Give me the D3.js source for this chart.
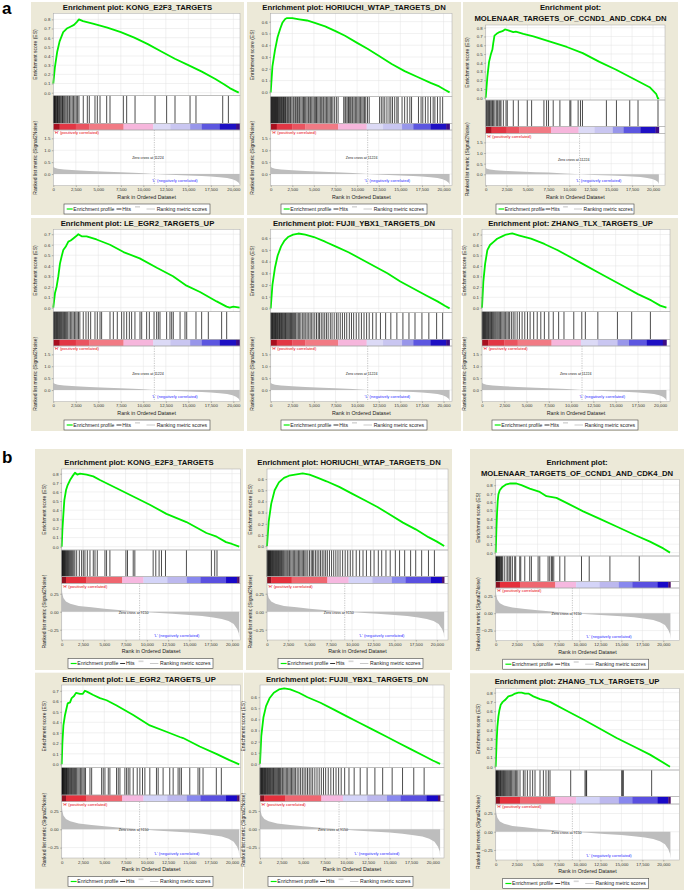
<!DOCTYPE html>
<html>
<head>
<meta charset="utf-8">
<script src="https://cdn.jsdelivr.net/npm/d3@7"></script>
<style>
html, body { margin: 0; padding: 0; background: #fff; }
svg { display: block; font-family: "Liberation Sans", Arial, sans-serif; }
</style>
</head>
<body>
<svg id="chart" width="684" height="890"></svg>
<script>
// gene sets, same order in both sections
var geneSets = [ 'KONG_E2F3_TARGETS', 'HORIUCHI_WTAP_TARGETS_DN', 'MOLENAAR_TARGETS_OF_CCND1_AND_CDK4_DN',
                 'LE_EGR2_TARGETS_UP', 'FUJII_YBX1_TARGETS_DN', 'ZHANG_TLX_TARGETS_UP' ];

var X_TICKS      = [ 0, 2500, 5000, 7500, 10000, 12500, 15000, 17500, 20000 ];
var ES_TICKS_8   = [ 0, 0.1, 0.2, 0.3, 0.4, 0.5, 0.6, 0.7, 0.8 ];
var ES_TICKS_7   = [ 0, 0.1, 0.2, 0.3, 0.4, 0.5, 0.6, 0.7 ];
var ES_TICKS_6   = [ 0, 0.1, 0.2, 0.3, 0.4, 0.5, 0.6 ];
var RANK_TICKS_A = [ 0, 0.5, 1, 1.5 ];
var RANK_TICKS_B = [ -0.25, 0, 0.25 ];

var zeroCrossA = 11224;
var zeroCrossB = 9150;

// ranked list metric (rank, signal2noise)
var rankedA = [ [0,0.31],[150,0.26],[500,0.22],[1200,0.19],[2500,0.16],[4000,0.13],[6000,0.1],[7500,0.08],[9500,0.04],[11224,0],
                [13000,-0.03],[15000,-0.06],[16500,-0.08],[17500,-0.1],[18500,-0.13],[19300,-0.17],[19900,-0.22],[20300,-0.28],[20600,-0.36],[20700,-0.45] ];
var rankedB = [ [0,0.34],[60,0.26],[200,0.19],[500,0.14],[1000,0.11],[2000,0.08],[3500,0.06],[5000,0.04],[7000,0.02],[9150,0],
                [11000,-0.015],[13000,-0.03],[15000,-0.045],[16500,-0.06],[17800,-0.08],[18800,-0.1],[19600,-0.13],[20200,-0.17],[20600,-0.24],[20800,-0.3],[20850,-0.37] ];

// heat bar under the hits
var barStopsA  = [ 0, 700, 2500, 4000, 7800, 11100, 13000, 15200, 16500, 18500, 20300, 20700 ];
var barColorsA = [ '#a80f1e', '#e23644', '#ea5460', '#f17a84', '#f6b6dc', '#dcdaf6', '#c9c6f1', '#9896ea', '#5c56e0', '#1e10c4', '#3c0c86' ];
var barStopsB  = [ 0, 500, 2900, 7100, 9600, 12400, 14700, 16300, 19300, 20600, 20850 ];
var barColorsB = [ '#8c1020', '#e5303c', '#ef6670', '#f6b8e0', '#d4d4f8', '#bcb8ee', '#8888ee', '#5a50e0', '#1808c8', '#50106a' ];

// running enrichment score (rank, ES)
var esKongA = [ [0,0.1],[180,0.28],[440,0.45],[700,0.56],[1100,0.66],[1500,0.7],[1900,0.72],[2300,0.74],[2600,0.77],[2850,0.8],[3300,0.78],[4500,0.75],
  [6000,0.71],[7500,0.66],[9000,0.6],[10500,0.53],[12000,0.45],[13500,0.37],[15000,0.3],[16500,0.23],[18000,0.15],[19000,0.09],[19600,0.05],[20200,0.02],[20600,0] ];
var esHoriuchiA = [ [0,0],[200,0.22],[500,0.36],[800,0.47],[1100,0.54],[1350,0.59],[1650,0.62],[1850,0.63],[2500,0.63],[3300,0.62],[4200,0.61],[5100,0.59],
  [6300,0.56],[7500,0.52],[8600,0.48],[10000,0.42],[11200,0.37],[12500,0.31],[14000,0.24],[15500,0.18],[17000,0.13],[18500,0.08],[19500,0.05],[20200,0.02],[20700,0] ];
var esMolenaarA = [ [0,0],[200,0.24],[400,0.41],[600,0.49],[800,0.55],[900,0.62],[1050,0.71],[1300,0.73],[1650,0.75],[2000,0.76],[2300,0.78],[2700,0.77],
  [3300,0.75],[3600,0.755],[4500,0.73],[5700,0.7],[7700,0.64],[9700,0.58],[11600,0.51],[13600,0.41],[15600,0.32],[17600,0.22],[19600,0.12],[20400,0.04],[20600,-0.01],[20700,0] ];
var esLeEgr2A = [ [0,0],[190,0.14],[370,0.2],[560,0.3],[740,0.42],[930,0.49],[1110,0.55],[1370,0.58],[1670,0.63],[1930,0.64],[2220,0.66],[2520,0.68],[2780,0.7],
  [3150,0.68],[3700,0.68],[4800,0.65],[6300,0.6],[7800,0.53],[9600,0.47],[11500,0.38],[13300,0.3],[14800,0.21],[16300,0.15],[18150,0.06],[19250,0.01],[19600,0],[20000,0.01],[20700,0] ];
var esFujiiA = [ [0,0],[200,0.2],[500,0.35],[800,0.45],[1200,0.53],[1600,0.58],[2000,0.61],[2600,0.63],[3200,0.64],[4000,0.63],[5000,0.61],[6300,0.57],
  [7500,0.53],[9000,0.48],[10500,0.42],[12000,0.36],[13500,0.3],[15000,0.23],[16500,0.17],[18000,0.11],[19300,0.06],[20200,0.02],[20700,0] ];
var esZhangA = [ [0,0],[150,0.25],[350,0.42],[600,0.55],[900,0.6],[1300,0.63],[1700,0.66],[2200,0.68],[2700,0.7],[3400,0.71],[4200,0.69],[5500,0.66],
  [7000,0.61],[8500,0.55],[10000,0.48],[11500,0.41],[13000,0.34],[14500,0.27],[16000,0.2],[17500,0.13],[19000,0.07],[20000,0.02],[20700,0] ];

var esKongB = [ [0,0],[80,0.18],[200,0.36],[310,0.51],[510,0.62],[700,0.675],[980,0.73],[1250,0.77],[1560,0.81],[1830,0.79],[2150,0.8],[2930,0.79],
  [3710,0.77],[4490,0.73],[6450,0.64],[8400,0.55],[10350,0.46],[12300,0.36],[14650,0.27],[17000,0.15],[18200,0.11],[19300,0.05],[20000,0.03],[20850,0] ];
var esHoriuchiB = [ [0,0],[200,0.22],[500,0.38],[900,0.5],[1400,0.57],[2000,0.61],[2600,0.63],[3300,0.64],[4200,0.65],[5000,0.64],[6000,0.61],[7000,0.58],
  [8500,0.53],[10000,0.47],[11500,0.41],[13000,0.35],[14500,0.28],[16000,0.21],[17500,0.15],[19000,0.08],[20000,0.04],[20850,0] ];
var esMolenaarB = [ [0,0],[80,0.27],[160,0.47],[240,0.61],[320,0.69],[480,0.74],[800,0.78],[1270,0.81],[1670,0.82],[2470,0.82],[3070,0.8],[4060,0.76],
  [5260,0.72],[6060,0.67],[7250,0.65],[8450,0.59],[10440,0.49],[12430,0.4],[14420,0.31],[16810,0.2],[18410,0.13],[20000,0.05],[20800,0] ];
var esLeEgr2B = [ [0,0],[80,0.2],[200,0.37],[390,0.47],[700,0.58],[980,0.59],[1170,0.63],[1450,0.65],[1680,0.68],[2150,0.67],[2460,0.67],[2730,0.7],
  [3010,0.69],[3710,0.66],[4490,0.63],[5270,0.61],[6450,0.56],[8400,0.47],[10350,0.37],[12300,0.31],[13870,0.26],[14260,0.25],[16210,0.17],[18160,0.1],[19700,0.04],[20850,0] ];
var esFujiiB = [ [0,0],[150,0.25],[400,0.42],[700,0.52],[1100,0.59],[1600,0.64],[2200,0.67],[2800,0.68],[3500,0.67],[4500,0.64],[5500,0.6],[7000,0.55],
  [8500,0.49],[10000,0.43],[11500,0.37],[13000,0.31],[14500,0.25],[16000,0.19],[17500,0.13],[19000,0.07],[20000,0.03],[20850,0] ];
var esZhangB = [ [0,0],[120,0.29],[200,0.43],[320,0.54],[440,0.61],[600,0.67],[840,0.7],[1110,0.72],[1510,0.76],[1910,0.77],[2310,0.79],[2700,0.8],
  [3100,0.8],[3500,0.79],[3900,0.79],[4490,0.76],[5290,0.73],[6480,0.7],[8470,0.605],[10460,0.51],[12450,0.41],[14430,0.31],[16420,0.22],[18410,0.13],[20800,0] ];

// hit positions (rank)
var hitsKongA = [ 20,60,110,150,200,260,330,400,470,520,600,680,760,850,950,1020,1100,1200,1300,1420,1550,1650,1800,1950,2100,2250,2400,2550,2700,2850,
  3330,3780,4000,4630,4890,5190,5930,6300,7780,8150,9080,11300,12590,13520,15190,15850,18820,19450 ];
var hitsHoriuchiA = [ 10,60,120,180,240,300,360,420,480,540,600,660,720,790,860,930,1000,1080,1160,1240,1320,1400,1480,1560,1640,1720,1800,
  1950,2050,2200,2300,2450,2600,2700,2850,2950,3100,3250,3350,3500,3650,3800,3900,4050,4200,4350,4450,4600,4750,4900,5050,5200,5300,5450,5600,5750,5900,
  6050,6150,6300,6450,6600,6750,6900,7050,7200,7400,7600,7800,8450,8600,8700,8850,9000,9100,9250,9400,9500,9650,9800,9950,10100,10250,10400,10550,10700,
  10850,11000,11200,11400,12600,12800,13000,13200,13450,13700,13900,14100,14350,14600,14750,15200,15500,15800,16100,16300,17100,17400,17600,17900,18200,
  18500,18800,19000,19300,19600,19900 ];
var hitsMolenaarA = [ 40,120,240,320,440,520,640,760,840,960,1110,1310,1430,1590,1710,1830,2110,2430,2580,3300,3900,4970,5490,6960,7280,7510,8070,8870,
  10060,10180,11050,11330,11570,14430,15630,17220,18210,20600 ];
var hitsLeEgr2A = [ 20,80,150,220,300,370,450,520,600,700,780,870,950,1050,1150,1250,1350,1480,1600,1750,1900,2050,2200,2350,2500,2650,2800,2950,
  3330,3630,3890,4150,4630,4890,5190,5370,6300,6670,7110,7590,7850,8150,8450,8700,9070,9630,9820,10370,10670,11190,11480,11670,11850,12590,12960,13150,
  13330,14080,14630,14820,15850,16480,17220,18700,19260 ];
var hitsFujiiA = [ 10,70,140,210,280,350,420,490,560,630,700,780,860,940,1020,1100,1180,1260,1350,1440,1530,1620,1710,1800,1900,2000,2100,2200,2300,2400,
  2500,2600,2700,2800,2900,3050,3200,3350,3500,3700,3850,4000,4200,4350,4550,4700,4900,5100,5300,5500,5650,5850,6050,6250,6450,6650,6900,7100,7350,7600,
  7800,8050,8300,8550,8800,9100,9350,9600,9900,10200,10500,10800,11100,11400,11800,12200,12700,13300,13900,14600,15300,16000,16700,17500,18300,19200,19900 ];
var hitsZhangA = [ 20,80,140,200,270,340,410,480,560,640,720,800,890,980,1070,1160,1260,1360,1470,1580,1700,1820,1950,2080,2220,2360,2500,2650,2800,2950,
  3100,3300,3500,3700,3950,4200,4500,4800,5100,5400,5800,6200,6600,7000,7500,8000,8600,9200,10300,11200,11600,13000,15200,16800,18900 ];

var hitsKongB = [ 20,60,110,160,220,280,340,400,470,540,620,700,780,870,960,1060,1170,1290,1420,1550,1760,2070,2340,2540,2730,3010,3320,3710,3910,4180,
  5080,5270,5660,7540,7730,8400,8590,10740,11050,11440,11720,12190,14650,17580,17970,18240 ];
var hitsHoriuchiB = [ 10,60,120,180,240,300,360,420,490,560,630,700,780,860,940,1020,1100,1180,1260,1340,1420,1500,1600,1700,1800,1900,2000,2120,2250,
  2380,2500,2650,2800,2950,3100,3250,3400,3550,3700,3850,4000,4150,4300,4450,4600,4800,5000,5200,5350,5500,5700,5900,6100,6300,6500,6700,6900,7100,7350,
  7600,7850,8100,8350,8600,8900,9200,9500,9800,10100,10500,10900,11300,11700,12200,12600,13100,13500,14000,14500,15100,15600,16200,16900,17500,18200,19000,19700 ];
var hitsMolenaarB = [ 20,60,100,150,200,260,320,380,450,520,600,680,760,850,1080,1350,1470,1670,1790,1990,2270,2390,2870,2990,3470,4060,4260,5060,5260,
  6250,6450,6650,6770,6930,7650,8250,10240,11160,13630,17130 ];
var hitsLeEgr2B = [ 20,60,100,150,200,250,310,370,430,500,560,620,700,780,860,950,1050,1150,1260,1380,1500,1620,1750,1900,2050,2200,2350,2500,2650,2800,
  3320,3520,4690,4880,5080,5470,5660,6440,6640,6840,7420,7620,7810,8010,8400,8870,9180,9490,9770,10350,11130,11330,11910,12690,13090,13670,13870,14060,
  15040,16010,16210,16600,18160,18750 ];
var hitsFujiiB = [ 10,60,120,180,240,300,370,440,510,580,650,720,800,880,960,1040,1120,1200,1290,1380,1470,1560,1650,1750,1850,1950,2050,2150,2250,2350,
  2450,2600,2750,2900,3050,3200,3350,3500,3650,3800,3950,4100,4300,4500,4700,4900,5100,5300,5500,5700,5900,6100,6350,6600,6850,7100,7350,7600,7900,8200,
  8500,8800,9100,9400,9800,10300,10900,11600,12400,13300,14200,15300,16500,17800,19000 ];
var hitsZhangB = [ 20,60,110,160,220,280,350,420,500,580,660,750,840,940,1040,1150,1260,1380,1500,1630,1760,1900,2050,2200,2350,2500,2650,2900,3300,3500,
  3780,4100,4410,4690,5290,5690,6000,6280,6480,8950,10660,10780,10850,15030,15150,15230,18610 ];

var esA   = [ esKongA, esHoriuchiA, esMolenaarA, esLeEgr2A, esFujiiA, esZhangA ];
var esB   = [ esKongB, esHoriuchiB, esMolenaarB, esLeEgr2B, esFujiiB, esZhangB ];
var hitsA = [ hitsKongA, hitsHoriuchiA, hitsMolenaarA, hitsLeEgr2A, hitsFujiiA, hitsZhangA ];
var hitsB = [ hitsKongB, hitsHoriuchiB, hitsMolenaarB, hitsLeEgr2B, hitsFujiiB, hitsZhangB ];

var SETS = {
	  a : { es: esA, hits: hitsA, ranked: rankedA, zero: zeroCrossA, stops: barStopsA, colors: barColorsA, rankTicks: RANK_TICKS_A, rankFmt: '.1f', zeroTextY: 0.67 }
	, b : { es: esB, hits: hitsB, ranked: rankedB, zero: zeroCrossB, stops: barStopsB, colors: barColorsB, rankTicks: RANK_TICKS_B, rankFmt: '.2f', zeroTextY: -0.01 }
};

// panel geometry (pixels)
var LAYOUT = [
	  { set:'a', i:0, box:[31,2,213,213],   plot:[53.3,240],  titleY:[7],      es:[13.3,95.7],  esDom:[-0.033,0.866], esTicks:ES_TICKS_8, hitsH:27.6, barH:6.7, rankBot:185.5, rankDom:[-0.48,1.85],  xMax:20740, legX:64,  legW:146 }
	, { set:'a', i:1, box:[247,2,214,213],  plot:[270.7,452], titleY:[7],      es:[13.3,96.7],  esDom:[-0.037,0.671], esTicks:ES_TICKS_6, hitsH:26.6, barH:6.7, rankBot:185.5, rankDom:[-0.48,1.85],  xMax:20980, legX:281, legW:146 }
	, { set:'a', i:2, box:[463,2,215,213],  plot:[485.7,665], titleY:[7,18],   es:[25,100],     esDom:[-0.026,0.831], esTicks:ES_TICKS_8, hitsH:26.7, barH:6.6, rankBot:185.5, rankDom:[-0.526,1.925], xMax:21435, legX:496, legW:138 }
	, { set:'a', i:3, box:[31,218,213,213], plot:[53.3,240],  titleY:[223],    es:[229.3,311.7],esDom:[-0.038,0.747], esTicks:ES_TICKS_7, hitsH:27.6, barH:6.7, rankBot:401.5, rankDom:[-0.48,1.85],  xMax:20740, legX:64,  legW:146 }
	, { set:'a', i:4, box:[247,218,214,213],plot:[270.7,452], titleY:[223],    es:[229.3,312.7],esDom:[-0.037,0.676], esTicks:ES_TICKS_6, hitsH:26.6, barH:6.7, rankBot:401.5, rankDom:[-0.48,1.85],  xMax:20980, legX:281, legW:146 }
	, { set:'a', i:5, box:[463,218,215,213],plot:[482,670],   titleY:[223],    es:[229.3,311.7],esDom:[-0.038,0.75],  esTicks:ES_TICKS_7, hitsH:27.6, barH:6.7, rankBot:401.5, rankDom:[-0.48,1.85],  xMax:21100, legX:492, legW:146 }
	, { set:'b', i:0, box:[35,449,208,221], plot:[61.7,240.5],titleY:[462],    es:[469,550],    esDom:[-0.036,0.851], esTicks:ES_TICKS_8, hitsH:26.7, barH:6.6, rankBot:640,   rankDom:[-0.393,0.394], xMax:21000, legX:68,  legW:145 }
	, { set:'b', i:1, box:[246,449,206,221],plot:[267,448],   titleY:[462],    es:[469,550],    esDom:[-0.035,0.69],  esTicks:ES_TICKS_6, hitsH:26.7, barH:6.6, rankBot:640,   rankDom:[-0.393,0.394], xMax:21300, legX:278, legW:145 }
	, { set:'b', i:2, box:[470,449,214,221],plot:[495.7,679.3],titleY:[461.7,472.7], es:[479.3,556], esDom:[-0.04,0.87], esTicks:ES_TICKS_8, hitsH:25.7, barH:6.3, rankBot:640.7, rankDom:[-0.395,0.36], xMax:21910, legX:502.7, legW:146 }
	, { set:'b', i:3, box:[35,672.7,208,216],plot:[61.7,240.5],titleY:[679],   es:[685,767.7],  esDom:[-0.032,0.755], esTicks:ES_TICKS_7, hitsH:27.3, barH:6.7, rankBot:858,   rankDom:[-0.392,0.377], xMax:21000, legX:68,  legW:145 }
	, { set:'b', i:4, box:[244,672.7,206,216],plot:[260,444], titleY:[679],    es:[685,767.7],  esDom:[-0.035,0.71],  esTicks:ES_TICKS_6, hitsH:27.3, barH:6.7, rankBot:858,   rankDom:[-0.392,0.377], xMax:21300, legX:268, legW:145 }
	, { set:'b', i:5, box:[470,673.3,214,216.7],plot:[495.7,679.3],titleY:[681], es:[688.3,770], esDom:[-0.036,0.847], esTicks:ES_TICKS_8, hitsH:26.7, barH:7.3, rankBot:860,   rankDom:[-0.387,0.38], xMax:21910, legX:502.7, legW:146 }
];

var COL = {
	  panel  : '#ece9d8'
	, frame  : '#a9a9a9'
	, grid   : '#e3e3e3'
	, es     : '#00ee00'
	, ranked : '#bdbdbd'
	, hi     : '#e8000b'
	, lo     : '#2b2bff'
};

var svg = d3.select( '#chart' );

function styleAxis( g, size ) {
	g.attr( 'font-size', null ).attr( 'font-family', null );
	g.select( '.domain' ).remove();
	g.selectAll( '.tick line' ).attr( 'stroke', '#555' ).attr( 'stroke-width', 0.4 );
	g.selectAll( '.tick text' ).attr( 'font-size', size ).attr( 'fill', '#333' );
}

function appendLegend( g, lx, ly, lw ) {
	var k = lw / 146;
	var my = ly + 5;
	g.append( 'rect' ).attr( 'x', lx ).attr( 'y', ly ).attr( 'width', lw ).attr( 'height', 10 )
		.attr( 'fill', '#fff' ).attr( 'stroke', '#444' ).attr( 'stroke-width', 0.6 );
	g.append( 'line' ).attr( 'x1', lx + 2.7 * k ).attr( 'x2', lx + 8.7 * k ).attr( 'y1', my ).attr( 'y2', my )
		.attr( 'stroke', COL.es ).attr( 'stroke-width', 1.2 );
	g.append( 'line' ).attr( 'x1', lx + 52.5 * k ).attr( 'x2', lx + 57.5 * k ).attr( 'y1', my ).attr( 'y2', my )
		.attr( 'stroke', '#000' ).attr( 'stroke-width', 0.8 );
	g.append( 'rect' ).attr( 'x', lx + 71 * k ).attr( 'y', my - 3 ).attr( 'width', 5 * k ).attr( 'height', 1.6 )
		.attr( 'fill', '#d8d8d8' );
	g.append( 'line' ).attr( 'x1', lx + 82.5 * k ).attr( 'x2', lx + 91 * k ).attr( 'y1', my ).attr( 'y2', my )
		.attr( 'stroke', '#bbb' ).attr( 'stroke-width', 0.8 );
	var items = [ [ 9.3, 'Enrichment profile' ], [ 58.3, 'Hits' ], [ 92.7, 'Ranking metric scores' ] ];
	items.forEach( function( it ) {
		g.append( 'text' ).attr( 'x', lx + it[ 0 ] * k ).attr( 'y', my + 1.8 ).attr( 'font-size', 5.1 * Math.min( 1, k + 0.03 ) )
			.attr( 'fill', '#222' ).text( it[ 1 ] );
	} );
}

function drawPanel( p ) {
	var S       = SETS[ p.set ];
	var g       = svg.append( 'g' );
	var esTop   = p.es[ 0 ], esBot = p.es[ 1 ];
	var hitsBot = esBot + p.hitsH;
	var barBot  = hitsBot + p.barH;
	var rankBot = p.rankBot;
	var x  = d3.scaleLinear().domain( [ 0, p.xMax ] ).range( p.plot );
	var yE = d3.scaleLinear().domain( p.esDom ).range( [ esBot, esTop ] );
	var yR = d3.scaleLinear().domain( p.rankDom ).range( [ rankBot, barBot ] );
	var pw = p.plot[ 1 ] - p.plot[ 0 ];

	g.append( 'rect' ).attr( 'x', p.box[ 0 ] ).attr( 'y', p.box[ 1 ] ).attr( 'width', p.box[ 2 ] ).attr( 'height', p.box[ 3 ] )
		.attr( 'fill', COL.panel );

	// title
	var name  = geneSets[ p.i ];
	var lines = p.titleY.length > 1 ? [ 'Enrichment plot:', name ] : [ 'Enrichment plot: '+ name ];
	lines.forEach( function( t, n ) {
		g.append( 'text' ).attr( 'x', p.box[ 0 ] + p.box[ 2 ] / 2 ).attr( 'y', p.titleY[ n ] + 2.8 )
			.attr( 'text-anchor', 'middle' ).attr( 'font-size', 7.7 ).attr( 'font-weight', 'bold' ).attr( 'fill', '#111' ).text( t );
	} );

	// plot backgrounds
	[ [ esTop, esBot ], [ esBot, hitsBot ], [ barBot, rankBot ] ].forEach( function( r ) {
		g.append( 'rect' ).attr( 'x', p.plot[ 0 ] ).attr( 'y', r[ 0 ] ).attr( 'width', pw ).attr( 'height', r[ 1 ] - r[ 0 ] )
			.attr( 'fill', '#fff' );
	} );

	// grid
	var grid = g.append( 'g' ).attr( 'stroke', COL.grid ).attr( 'stroke-width', 0.5 );
	X_TICKS.forEach( function( t ) {
		grid.append( 'line' ).attr( 'x1', x( t ) ).attr( 'x2', x( t ) ).attr( 'y1', esTop ).attr( 'y2', esBot );
		grid.append( 'line' ).attr( 'x1', x( t ) ).attr( 'x2', x( t ) ).attr( 'y1', barBot ).attr( 'y2', rankBot );
	} );
	p.esTicks.forEach( function( t ) {
		grid.append( 'line' ).attr( 'x1', p.plot[ 0 ] ).attr( 'x2', p.plot[ 1 ] ).attr( 'y1', yE( t ) ).attr( 'y2', yE( t ) );
	} );
	S.rankTicks.forEach( function( t ) {
		grid.append( 'line' ).attr( 'x1', p.plot[ 0 ] ).attr( 'x2', p.plot[ 1 ] ).attr( 'y1', yR( t ) ).attr( 'y2', yR( t ) );
	} );

	// ranked list metric
	g.append( 'path' ).datum( S.ranked )
		.attr( 'd', d3.area().x( d => x( d[ 0 ] ) ).y0( yR( 0 ) ).y1( d => yR( d[ 1 ] ) ) )
		.attr( 'fill', COL.ranked );
	g.append( 'line' ).attr( 'x1', x( S.zero ) ).attr( 'x2', x( S.zero ) ).attr( 'y1', barBot ).attr( 'y2', rankBot )
		.attr( 'stroke', '#8a8a8a' ).attr( 'stroke-width', 0.5 ).attr( 'stroke-dasharray', '1.2,1.2' );

	// hits
	g.append( 'g' ).selectAll( 'line' ).data( S.hits[ p.i ] ).enter().append( 'line' )
		.attr( 'x1', d => x( d ) ).attr( 'x2', d => x( d ) ).attr( 'y1', esBot ).attr( 'y2', hitsBot )
		.attr( 'stroke', '#000' ).attr( 'stroke-width', 0.7 );

	// heat bar
	g.append( 'rect' ).attr( 'x', p.plot[ 0 ] ).attr( 'y', hitsBot ).attr( 'width', pw ).attr( 'height', p.barH ).attr( 'fill', '#fff' );
	g.append( 'g' ).selectAll( 'rect' ).data( S.colors ).enter().append( 'rect' )
		.attr( 'x', ( d, n ) => x( S.stops[ n ] ) )
		.attr( 'width', ( d, n ) => x( S.stops[ n + 1 ] ) - x( S.stops[ n ] ) + 0.3 )
		.attr( 'y', hitsBot ).attr( 'height', p.barH ).attr( 'fill', d => d );

	// ES curve
	g.append( 'path' ).datum( S.es[ p.i ] )
		.attr( 'd', d3.line().x( d => x( d[ 0 ] ) ).y( d => yE( d[ 1 ] ) ) )
		.attr( 'fill', 'none' ).attr( 'stroke', COL.es ).attr( 'stroke-width', 1.8 ).attr( 'stroke-linejoin', 'round' );

	// frames
	[ [ esTop, esBot ], [ esBot, hitsBot ], [ hitsBot, barBot ], [ barBot, rankBot ] ].forEach( function( r ) {
		g.append( 'rect' ).attr( 'x', p.plot[ 0 ] ).attr( 'y', r[ 0 ] ).attr( 'width', pw ).attr( 'height', r[ 1 ] - r[ 0 ] )
			.attr( 'fill', 'none' ).attr( 'stroke', COL.frame ).attr( 'stroke-width', 0.5 );
	} );

	// text inside ranked plot
	g.append( 'text' ).attr( 'x', p.plot[ 0 ] + 1 ).attr( 'y', barBot + 4.2 ).attr( 'font-size', 4.1 ).attr( 'fill', COL.hi )
		.text( "'H' (positively correlated)" );
	g.append( 'text' ).attr( 'x', x( 13500 ) ).attr( 'y', yR( p.set === 'a' ? -0.29 : -0.33 ) + 1.4 ).attr( 'text-anchor', 'middle' )
		.attr( 'font-size', 4.1 ).attr( 'fill', COL.lo ).text( "'L' (negatively correlated)" );
	g.append( 'text' ).attr( 'x', x( S.zero - 700 ) ).attr( 'y', yR( S.zeroTextY ) + 1.3 ).attr( 'text-anchor', 'middle' )
		.attr( 'font-size', 3.6 ).attr( 'fill', '#222' ).text( 'Zero cross at '+ S.zero );

	// axes
	var ax = g.append( 'g' ).attr( 'transform', 'translate(0,'+ rankBot +')' )
		.call( d3.axisBottom( x ).tickValues( X_TICKS ).tickFormat( d3.format( ',' ) ).tickSize( 1.5 ).tickPadding( 1 ) );
	styleAxis( ax, 4.3 );
	var ae = g.append( 'g' ).attr( 'transform', 'translate('+ p.plot[ 0 ] +',0)' )
		.call( d3.axisLeft( yE ).tickValues( p.esTicks ).tickFormat( d3.format( '.1f' ) ).tickSize( 1.5 ).tickPadding( 1.5 ) );
	styleAxis( ae, 4.3 );
	var ar = g.append( 'g' ).attr( 'transform', 'translate('+ p.plot[ 0 ] +',0)' )
		.call( d3.axisLeft( yR ).tickValues( S.rankTicks ).tickFormat( d3.format( S.rankFmt ) ).tickSize( 1.5 ).tickPadding( 1.5 ) );
	styleAxis( ar, 4.3 );

	// axis titles
	var lx = p.plot[ 0 ] - ( p.set === 'a' ? 16.5 : 15.5 );
	g.append( 'text' ).attr( 'transform', 'translate('+ lx +','+ ( esTop + esBot ) / 2 +') rotate(-90)' )
		.attr( 'text-anchor', 'middle' ).attr( 'font-size', 5 ).attr( 'fill', '#222' ).text( 'Enrichment score (ES)' );
	g.append( 'text' ).attr( 'transform', 'translate('+ lx +','+ ( barBot + rankBot ) / 2 +') rotate(-90)' )
		.attr( 'text-anchor', 'middle' ).attr( 'font-size', 5 ).attr( 'fill', '#222' ).text( 'Ranked list metric (Signal2Noise)' );
	g.append( 'text' ).attr( 'x', p.plot[ 0 ] + pw * 0.5 ).attr( 'y', rankBot + 13.2 )
		.attr( 'text-anchor', 'middle' ).attr( 'font-size', 5.3 ).attr( 'fill', '#222' ).text( 'Rank in Ordered Dataset' );

	appendLegend( g, p.legX, rankBot + 18.5, p.legW );
}

LAYOUT.forEach( drawPanel );

// section letters
svg.append( 'text' ).attr( 'x', 2 ).attr( 'y', 14 ).attr( 'font-size', 17 ).attr( 'font-weight', 'bold' ).text( 'a' );
svg.append( 'text' ).attr( 'x', 2 ).attr( 'y', 463 ).attr( 'font-size', 17 ).attr( 'font-weight', 'bold' ).text( 'b' );
</script>
</body>
</html>
